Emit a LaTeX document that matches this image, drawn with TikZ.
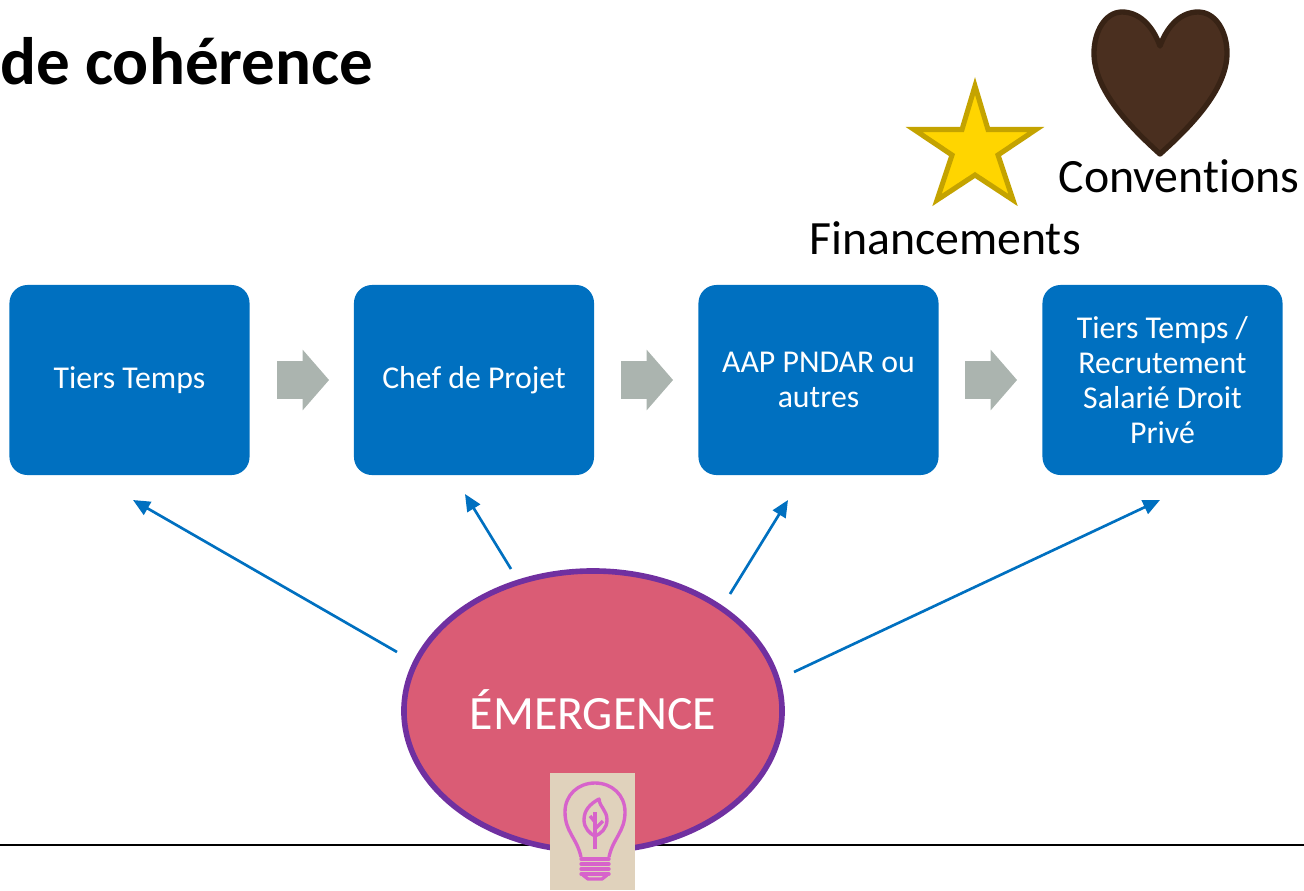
\documentclass[tikz,border=0pt]{standalone}
\usepackage{xcolor}
\usepackage{fontspec}
\setmainfont[Ligatures=NoCommon]{Carlito}
\usetikzlibrary{shapes.geometric,shapes.arrows,arrows.meta}
\definecolor{boxblue}{HTML}{0070C0}
\definecolor{arrowgrey}{HTML}{ABB4AF}
\definecolor{emergfill}{HTML}{DA5C75}
\definecolor{emergline}{HTML}{7030A0}
\definecolor{goldfill}{HTML}{FFD500}
\definecolor{goldline}{HTML}{C4A300}
\definecolor{heartfill}{HTML}{4A2F1F}
\definecolor{heartline}{HTML}{382315}
\definecolor{bulbback}{HTML}{E0D2BC}
\definecolor{bulbline}{HTML}{D763CB}
\tikzset{
	stepbox/.style={fill=boxblue,text=white,rounded corners=0.45cm,minimum width=6cm,minimum height=4.75cm,align=center,inner sep=0pt,font=\fontsize{22.6}{25}\selectfont},
	nextarrow/.style={single arrow,fill=arrowgrey,anchor=tail,minimum height=1.3cm,inner xsep=0pt,inner ysep=0.4625cm,single arrow head extend=0.2875cm,single arrow tip angle=98,outer sep=0pt},
	linkarrow/.style={color=boxblue,line width=1.9pt,-{Triangle[length=12pt,width=10.5pt]}},
	biglabel/.style={inner sep=0pt,font=\fontsize{34}{40}\selectfont},
	bulbstroke/.style={bulbline,line width=2.4pt,line join=round}
}
\begin{document}
\begin{tikzpicture}[x=0.025cm,y=-0.025cm]
	\useasboundingbox (0,0) rectangle (1304,890);
	\coordinate (l1) at (397,652);
	\coordinate (l2) at (511,569);
	\coordinate (l3) at (730,594);
	\coordinate (l4) at (794,672);
	\coordinate (t1) at (133,500);
	\coordinate (t2) at (465,494);
	\coordinate (t3) at (788,500);
	\coordinate (t4) at (1160,500);
	\coordinate (a1) at (277,380);
	\coordinate (a2) at (621,380);
	\coordinate (a3) at (965,380);
	\coordinate (r1) at (0,845);
	\coordinate (r2) at (1304,845);

	\draw[color=black,line width=1.4pt] (r1) -- (r2);

	\node (title) at (0,61.5) [anchor=west,inner sep=0pt,font=\fontsize{47.7}{54}\selectfont\bfseries] {de cohérence};

	\node (box1) at (129.5,380) [stepbox] {Tiers Temps};
	\node (box2) at (474,380) [stepbox] {Chef de Projet};
	\node (box3) at (818.5,380) [stepbox] {AAP PNDAR ou\\autres};
	\node (box4) at (1162.5,380) [stepbox] {Tiers Temps /\\Recrutement\\Salarié Droit\\Privé};

	\node (next1) at (a1) [nextarrow] {};
	\node (next2) at (a2) [nextarrow] {};
	\node (next3) at (a3) [nextarrow] {};

	\node (emergence) at (593,711) [ellipse,fill=emergfill,draw=emergline,line width=4pt,minimum width=9.45cm,minimum height=7cm,inner sep=0pt,text=white,font=\fontsize{34}{40}\selectfont] {\raisebox{2pt}{ÉMERGENCE}};

	\draw[linkarrow] (l1) -- (t1);
	\draw[linkarrow] (l2) -- (t2);
	\draw[linkarrow] (l3) -- (t3);
	\draw[linkarrow] (l4) -- (t4);

	\fill[bulbback] (550,773) rectangle (635,890);
	\draw[bulbstroke] (581,857) .. controls (577,838) and (565,832) .. (565,812) .. controls (565,795) and (578,783) .. (595,783) .. controls (612,783) and (625,795) .. (625,812) .. controls (625,832) and (613,838) .. (609,857);
	\draw[bulbstroke] (599,799) .. controls (590,804) and (584,810) .. (584,820) .. controls (584,828) and (590,834) .. (595,836) .. controls (601,834) and (607,828) .. (607,820) .. controls (607,810) and (600,808) .. (599,799) -- cycle;
	\draw[bulbstroke] (595,849) -- (595,812);
	\draw[bulbstroke] (595,829) -- (603,821);
	\draw[bulbstroke] (595,822) -- (590,816);
	\foreach \y in {859,864,869,874}
		\draw[bulbstroke,line cap=round] (581,\y) -- (609,\y);
	\draw[bulbstroke] (583,875) -- (588,879) -- (602,879) -- (607,875);

	\draw[fill=goldfill,draw=goldline,line width=3.6pt,miter limit=10] (975,86) -- (988,129.5) -- (1036,129.5) -- (998,155) -- (1013,200) -- (975,175) -- (937,200) -- (952,155) -- (914,129.5) -- (962,129.5) -- cycle;
	\node (financements) at (945,238) [biglabel] {Financements};

	\draw[fill=heartfill,draw=heartline,line width=3.8pt,line join=round] (1160,46) .. controls (1168,24) and (1182,12) .. (1198,12) .. controls (1216,12) and (1227,32) .. (1227,53) .. controls (1227,90) and (1190,127) .. (1160,154) .. controls (1130,127) and (1094,90) .. (1094,53) .. controls (1094,32) and (1105,12) .. (1122,12) .. controls (1138,12) and (1152,24) .. (1160,46) -- cycle;
	\node (conventions) at (1179,176) [biglabel] {Conventions};
\end{tikzpicture}
\end{document}
